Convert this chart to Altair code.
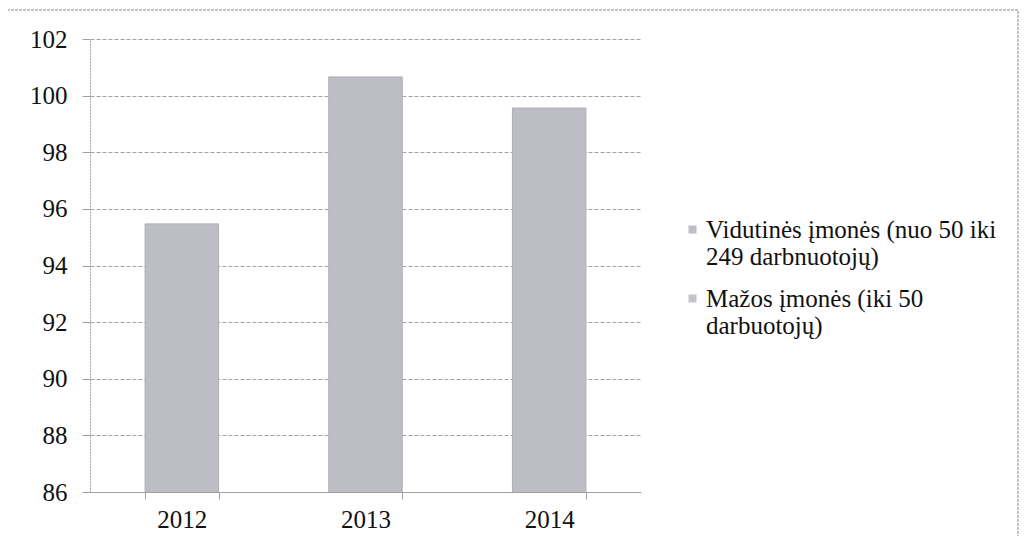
import altair as alt
import pandas as pd

years = ["2012", "2013", "2014"]
values = [95.47, 100.66, 99.56]
series_names = [
    "Vidutinės įmonės (nuo 50 iki|249 darbnuotojų)",
    "Mažos įmonės (iki 50|darbuotojų)",
]
series_colors = ["#bdbdc5", "#c4c4ca"]
y_ticks = [86, 88, 90, 92, 94, 96, 98, 100, 102]

FONT = "Liberation Serif"

df = pd.DataFrame({"year": years, "value": values, "series": [series_names[0]] * len(years)})

bars = alt.Chart(df).mark_bar(stroke="#adadb4", strokeWidth=1, clip=True).encode(
    x=alt.X(
        "year:N",
        scale=alt.Scale(paddingInner=0.6, paddingOuter=0.3),
        axis=alt.Axis(
            title=None, labelAngle=0, tickBand="extent", tickSize=7,
            domainColor="#a0a0a0", tickColor="#a0a0a0", labelPadding=8, grid=False,
            labelFont=FONT, labelFontSize=25, labelColor="#111",
        ),
    ),
    y=alt.Y(
        "value:Q",
        scale=alt.Scale(domain=[86, 102], nice=False, zero=False),
        axis=alt.Axis(
            title=None, values=y_ticks, tickSize=8, labelPadding=15,
            gridDash=[4, 2], gridColor="#a3a3a3", domainColor="#a0a0a0",
            domainDash=[2, 1], tickColor="#a0a0a0",
            labelFont=FONT, labelFontSize=25, labelColor="#111",
        ),
    ),
    color=alt.Color(
        "series:N",
        scale=alt.Scale(domain=series_names, range=series_colors),
        legend=alt.Legend(
            title=None, orient="none", legendX=590, legendY=178,
            labelExpr="split(datum.label, '|')", symbolType="square",
            symbolSize=64, labelFontSize=25, labelFont=FONT, rowPadding=16,
            labelLimit=500, padding=0, symbolStrokeWidth=0, labelColor="#111",
            labelOffset=1,
        ),
    ),
)

frame = alt.Chart(pd.DataFrame({"a": [0]})).mark_rect(
    fillOpacity=0, stroke="#8a8a8a", strokeWidth=1, strokeDash=[3, 1]
).encode(
    x=alt.value(-83), x2=alt.value(928), y=alt.value(-29), y2=alt.value(530)
)

chart = alt.layer(frame, bars).properties(
    width=551,
    height=453,
    autosize=alt.AutoSizeParams(type="none"),
    padding={"left": 82, "top": 31, "right": 378, "bottom": 44},
).configure_view(stroke=None).configure_axis(
    labelFont=FONT, labelFontSize=25, labelColor="#111", gridWidth=1
)

chart.save("out.html", embed_options={"renderer": "svg", "actions": False})
